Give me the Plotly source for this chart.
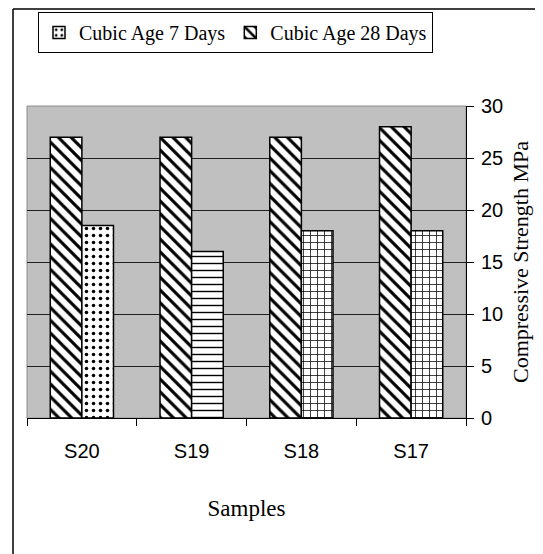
import plotly.graph_objects as go

categories = ["S20", "S19", "S18", "S17"]
age_28_days = [27, 27, 27, 28]
age_7_days = [18.5, 16, 18, 18]
y_ticks = [0, 5, 10, 15, 20, 25, 30]

W, H = 543, 554
OFF = 8  # page body margin offset
# plot area in page pixels: x 27..466, y 106..418
L, T = 27 - OFF, 106 - OFF
R, B = W - (466 - OFF), H - (418 - OFF)
pw, ph = W - L - R, H - T - B

def px_x(x):
    return (x - OFF - L) / pw

def px_y(y):
    return (H - B - (y - OFF)) / ph

serif = "Liberation Serif, Times New Roman, serif"
sans = "Liberation Sans, Arial, sans-serif"

fig = go.Figure()
fig.add_trace(go.Bar(
    x=categories, y=age_28_days, name="Cubic Age 28 Days",
    marker=dict(color="white", line=dict(color="black", width=1.5),
                pattern=dict(shape="\\", fgcolor="black", bgcolor="white",
                             size=9, solidity=0.35, fillmode="replace")),
))
fig.add_trace(go.Bar(
    x=categories, y=age_7_days, name="Cubic Age 7 Days",
    marker=dict(color="white", line=dict(color="black", width=1.5),
                pattern=dict(shape=[".", "-", "+", "+"], fgcolor="black", bgcolor="white",
                             size=7, solidity=0.2, fillmode="replace")),
))

fig.update_layout(
    width=W, height=H,
    margin=dict(l=L, r=R, t=T, b=B, autoexpand=False),
    paper_bgcolor="white", plot_bgcolor="#c0c0c0",
    barmode="group", bargap=0.424, bargroupgap=0,
    showlegend=True,
    legend=dict(orientation="h", traceorder="reversed",
                x=px_x(38), y=px_y(12), xanchor="left", yanchor="top",
                bordercolor="black", borderwidth=1, bgcolor="white",
                font=dict(family=serif, size=20, color="black"),
                itemwidth=30),
    xaxis=dict(
        type="category", tickson="boundaries", ticks="outside", ticklen=7,
        tickcolor="black", showline=True, linecolor="black", linewidth=1,
        showgrid=False, ticklabelstandoff=15,
        tickfont=dict(family=sans, size=20, color="black"),
        title=dict(text="Samples", font=dict(family=serif, size=23, color="black"), standoff=38),
    ),
    yaxis=dict(
        side="right", range=[0, 30], tickvals=y_ticks, ticks="outside", ticklen=7,
        tickcolor="black", showline=True, linecolor="black", linewidth=1,
        showgrid=True, gridcolor="#202020", gridwidth=1, zeroline=False,
        ticklabelstandoff=3,
        tickfont=dict(family=sans, size=20, color="black"),
        title=dict(text="Compressive Strength MPa",
                   font=dict(family=serif, size=22, color="black"), standoff=10),
    ),
    shapes=[
        dict(type="rect", xref="paper", yref="paper", x0=0, x1=1, y0=0, y1=1,
             line=dict(color="#8c8c8c", width=1), layer="below"),
        dict(type="line", xref="paper", yref="paper", x0=px_x(13), x1=px_x(13),
             y0=px_y(9), y1=px_y(600), line=dict(color="black", width=1.5)),
        dict(type="line", xref="paper", yref="paper", x0=px_x(13), x1=px_x(600),
             y0=px_y(9), y1=px_y(9), line=dict(color="black", width=1.5)),
    ],
)

fig.write_html("out.html")
